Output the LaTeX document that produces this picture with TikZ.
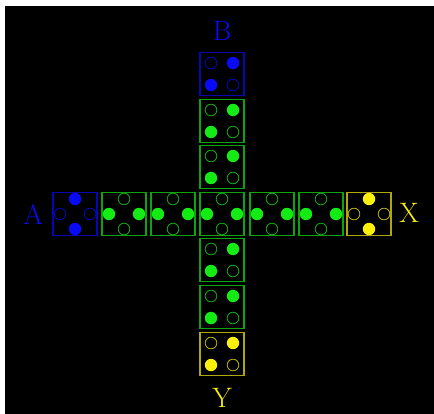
\documentclass[tikz,border=0pt]{standalone}
\usetikzlibrary{positioning,calc}
\definecolor{padblue}{RGB}{10,10,250}
\definecolor{padgreen}{RGB}{20,235,20}
\definecolor{padyellow}{RGB}{250,240,10}
\tikzset{
  cell/.style={draw=#1!70!black, line width=0.75pt, minimum width=1.1cm,
    minimum height=1.075cm, inner sep=0pt},
  full/.style={circle, fill=#1, minimum size=0.31cm, inner sep=0pt},
  hole/.style={circle, draw=#1!72!black, line width=0.6pt, minimum size=0.29cm,
    inner sep=0pt},
  end/.style={font=\fontsize{20}{20}\selectfont, text=#1, inner sep=0pt},
}

\begin{document}
\begin{tikzpicture}[x=0.025cm, y=-0.025cm]
    \fill[white] (0,0) rectangle (434,414);
    \fill[black] (5,6) rectangle (434,414);
    % column: square pattern
    \foreach \nm/\yy/\cc in {b/74/padblue, v1/121/padgreen, v2/167/padgreen,
        v4/260/padgreen, v5/307/padgreen, y/354/padyellow} {
      \node[cell=\cc] (\nm) at (222,\yy) {};
      \node[hole=\cc] (\nm-tl) at ($(\nm)+(-11,-11)$) {};
      \node[full=\cc] (\nm-tr) at ($(\nm)+(11,-11)$) {};
      \node[full=\cc] (\nm-bl) at ($(\nm)+(-11,11)$) {};
      \node[hole=\cc] (\nm-br) at ($(\nm)+(11,11)$) {};
    }
    % row: diamond pattern
    \foreach \nm/\xx/\cc/\tb/\lr in {a/75/padblue/full/hole, h1/124/padgreen/hole/full,
        h2/173/padgreen/hole/full, c/222/padgreen/hole/full, h4/272/padgreen/hole/full,
        h5/321/padgreen/hole/full, x/369/padyellow/full/hole} {
      \node[cell=\cc] (\nm) at (\xx,214) {};
      \node[\tb=\cc] (\nm-t) at ($(\nm)+(0,-15)$) {};
      \node[\tb=\cc] (\nm-b) at ($(\nm)+(0,15)$) {};
      \node[\lr=\cc] (\nm-l) at ($(\nm)+(-15,0)$) {};
      \node[\lr=\cc] (\nm-r) at ($(\nm)+(15,0)$) {};
    }
    \node[end=padblue] (labB) at (222,31) {B};
    \node[end=padblue] (labA) at (33,215) {A};
    \node[end=padyellow] (labX) at (409,213) {X};
    \node[end=padyellow] (labY) at (222,398) {Y};
  \end{tikzpicture}
\end{document}
